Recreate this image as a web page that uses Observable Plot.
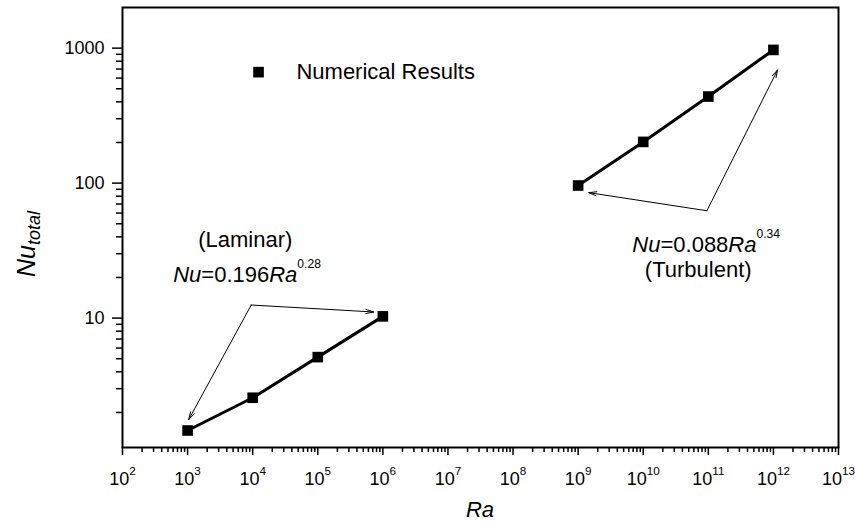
<!DOCTYPE html>
<html><head><meta charset="utf-8">
<script src="https://cdn.jsdelivr.net/npm/d3@7"></script>
<script src="https://cdn.jsdelivr.net/npm/@observablehq/plot@0.6"></script>
<style>
body{margin:0;background:#fff}
svg{font-family:"Liberation Sans",Arial,Helvetica,sans-serif}
</style>
</head><body><div id="chart"></div>
<script>
// ---- data ----
const laminarRa = [1e3, 1e4, 1e5, 1e6];
const laminarNu = [1.47, 2.57, 5.14, 10.3];
const turbulentRa = [1e9, 1e10, 1e11, 1e12];
const turbulentNu = [96, 202, 438, 970];

// tick values
const xDecades = [1e2, 1e3, 1e4, 1e5, 1e6, 1e7, 1e8, 1e9, 1e10, 1e11, 1e12, 1e13];
const yDecades = [10, 100, 1000];
const minorMultipliers = [2, 3, 4, 5, 6, 7, 8, 9];
const yMinorBases = [1, 10, 100, 1000];

// annotation arrows (Ra, Nu)
const arrowFromRa = [9.5e3, 9.5e3, 9.5e10, 9.5e10];
const arrowFromNu = [12.5, 12.5, 62.4, 62.4];
const arrowToRa = [7.2e5, 1.04e3, 1.46e9, 1.16e12];
const arrowToNu = [11.1, 1.77, 85, 690];

// annotation texts (centred labels)
const centerLabels = ["(Laminar)", "(Turbulent)"];
const centerRa = [7.7e3, 7.0e10];
const centerNu = [38.2, 22.8];
// annotation texts (left-aligned equations)
const eqLabels = ["Nu=0.196Ra^0.28", "Nu=0.088Ra^0.34"];
const eqRa = [601, 6.8e9];
const eqNu = [21.0, 34.9];

// legend
const legendLabel = "Numerical Results";
const legendSymbolRa = 1.23e4, legendTextRa = 4.7e4, legendNu = 664;

// ---- build tables ----
const points = [
  ...laminarRa.map((r, i) => ({Ra: r, Nu: laminarNu[i], regime: "laminar"})),
  ...turbulentRa.map((r, i) => ({Ra: r, Nu: turbulentNu[i], regime: "turbulent"}))
];
const arrows = arrowFromRa.map((r, i) => ({x1: r, y1: arrowFromNu[i], x2: arrowToRa[i], y2: arrowToNu[i]}));
const centers = centerLabels.map((t, i) => ({t, Ra: centerRa[i], Nu: centerNu[i]}));
const eqs = eqLabels.map((t, i) => ({t, Ra: eqRa[i], Nu: eqNu[i]}));
const xMinor = xDecades.slice(0, -1).flatMap(d => minorMultipliers.map(m => d * m));
const yMinor = yMinorBases.flatMap(d => minorMultipliers.map(m => d * m)).filter(v => v > 1.1 && v < 2000);

const plot = Plot.plot({
  width: 855,
  height: 526,
  marginLeft: 122,
  marginRight: 17,
  marginTop: 7,
  marginBottom: 79,
  style: {fontFamily: '"Liberation Sans", Arial, sans-serif', background: "#fff", color: "#000"},
  x: {type: "log", domain: [1e2, 1e13]},
  y: {type: "log", domain: [1.1, 2000]},
  marks: [
    Plot.axisX({ticks: xMinor, tickSize: 5, strokeWidth: 1.5, tickFormat: () => "", label: null}),
    Plot.axisX({ticks: xDecades, tickSize: 8, strokeWidth: 1.5, tickPadding: 17, fontSize: 18,
      tickFormat: d => "10^" + Math.round(Math.log10(d)), label: null, className: "xmaj"}),
    Plot.axisY({ticks: yMinor, tickSize: 6, strokeWidth: 1.5, tickFormat: () => "", label: null}),
    Plot.axisY({ticks: yDecades, tickSize: 10, strokeWidth: 1.5, tickPadding: 8, fontSize: 18,
      tickFormat: d3.format("d"), label: null}),
    Plot.frame({strokeWidth: 2}),
    Plot.line(points, {x: "Ra", y: "Nu", z: "regime", stroke: "#000", strokeWidth: 3}),
    Plot.dot(points, {x: "Ra", y: "Nu", symbol: "square", r: 6, fill: "#000", stroke: "none"}),
    Plot.arrow(arrows, {x1: "x1", y1: "y1", x2: "x2", y2: "y2", stroke: "#000", strokeWidth: 1,
      headLength: 12, headAngle: 30}),
    Plot.text(centers, {x: "Ra", y: "Nu", text: "t", textAnchor: "middle", fontSize: 22, fill: "#000"}),
    Plot.text(eqs, {x: "Ra", y: "Nu", text: "t", textAnchor: "start", fontSize: 22, fill: "#000", className: "rich"}),
    Plot.dot([legendNu], {x: () => legendSymbolRa, y: d => d, symbol: "square", r: 6, fill: "#000", stroke: "none"}),
    Plot.text([legendLabel], {x: () => legendTextRa, y: () => legendNu, text: d => d, textAnchor: "start", fontSize: 22, fill: "#000"})
  ]
});

// rich-text formatting: italic Nu/Ra, superscripts after ^
function rich(el, str, supSize, supDy) {
  const sel = d3.select(el);
  sel.text(null);
  const parts = str.split(/(Nu|Ra|\^[0-9.]+)/).filter(s => s);
  for (const p of parts) {
    if (p === "Nu" || p === "Ra") sel.append("tspan").attr("font-style", "italic").text(p);
    else if (p.startsWith("^")) sel.append("tspan").attr("font-size", supSize).attr("dy", supDy).text(p.slice(1));
    else sel.append("tspan").text(p);
  }
}
const svg = d3.select(plot);
svg.selectAll("g.rich text").each(function(_, i) { rich(this, eqLabels[i], "0.55em", "-1.15em"); });
svg.selectAll("g.xmaj text").each(function() { rich(this, this.textContent, "0.65em", "-0.86em"); });

// axis titles
svg.append("text").attr("x", (122 + 838) / 2).attr("y", 517).attr("text-anchor", "middle")
  .attr("font-size", 22).attr("font-style", "italic").attr("fill", "#000").text("Ra");
const yl = svg.append("text").attr("transform", "translate(35,244) rotate(-90)").attr("text-anchor", "middle")
  .attr("font-size", 25).attr("fill", "#000");
yl.append("tspan").attr("font-style", "italic").text("Nu");
yl.append("tspan").attr("font-size", "0.72em").attr("font-style", "italic").attr("dy", "0.3em").text("total");

document.getElementById("chart").appendChild(plot);
</script>
</body></html>
